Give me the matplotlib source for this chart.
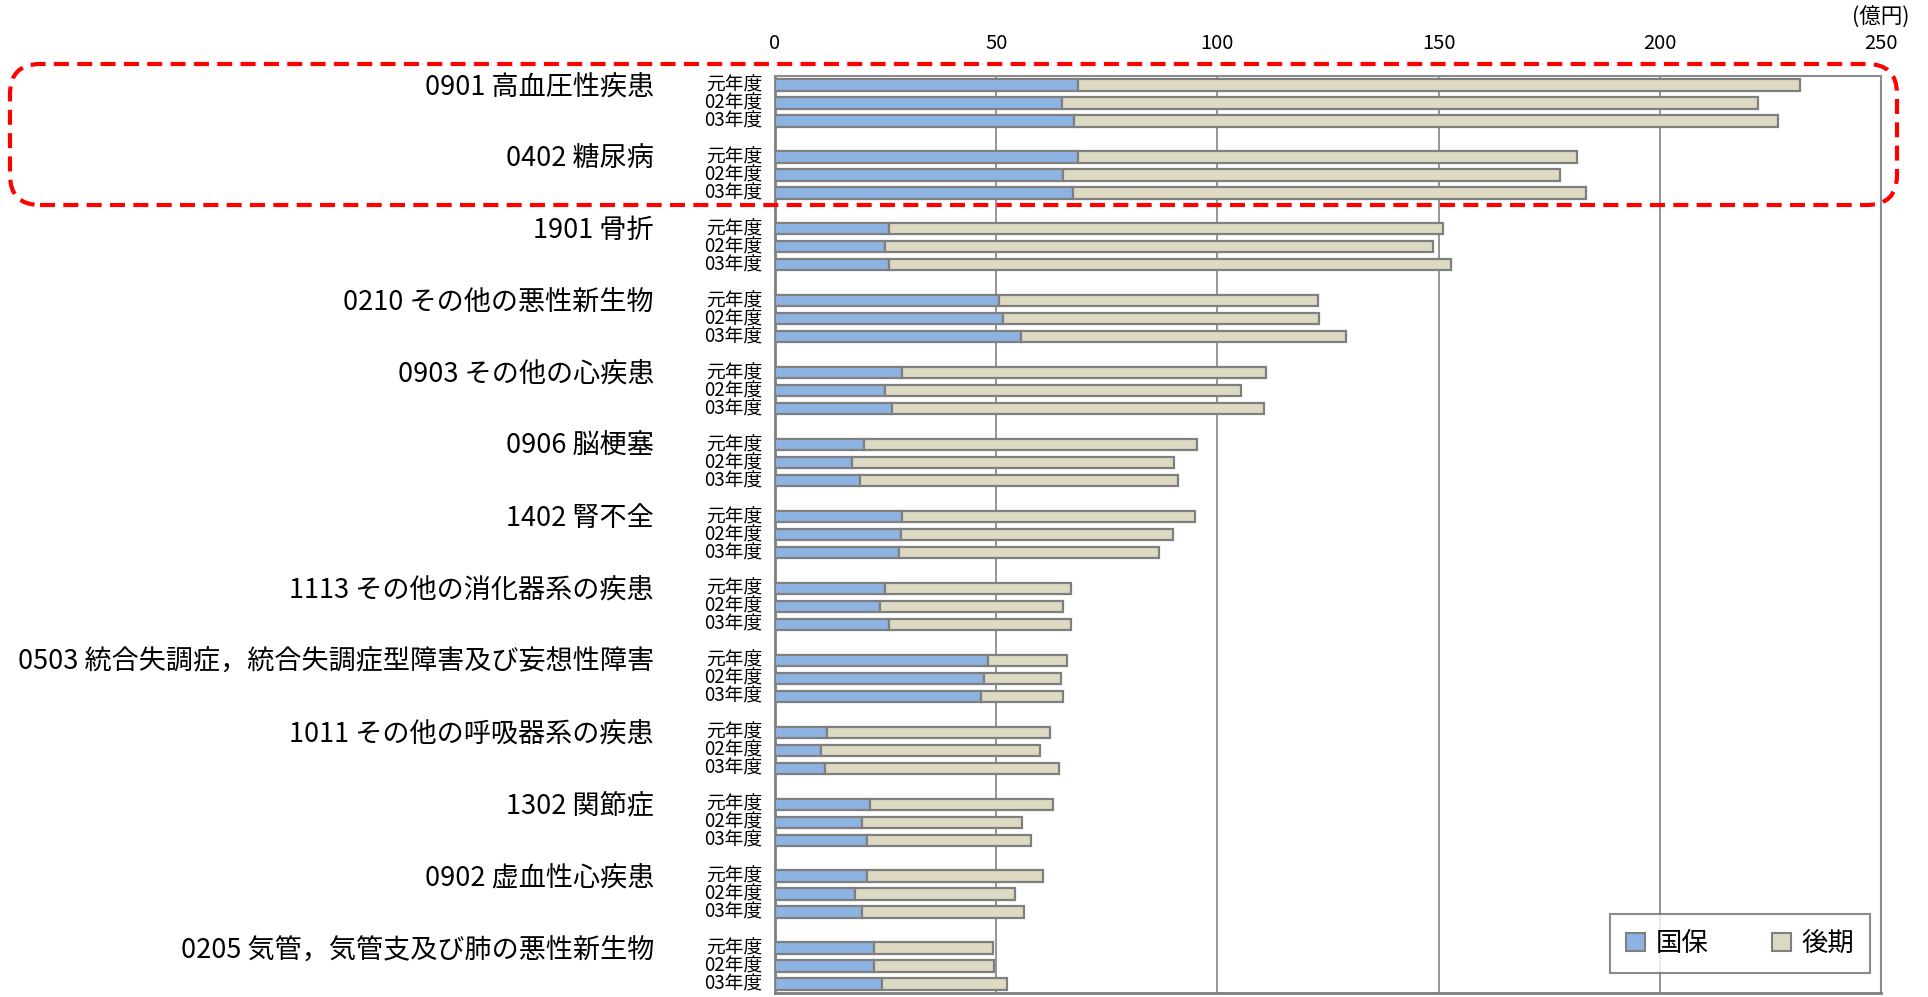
import matplotlib
matplotlib.use("Agg")
import matplotlib.pyplot as plt
from matplotlib.patches import FancyBboxPatch, Patch
from matplotlib.transforms import blended_transform_factory
import numpy as np

plt.rcParams['font.family'] = ['Noto Sans CJK JP', 'DejaVu Sans']

categories = ["0901 高血圧性疾患", "0402 糖尿病", "1901 骨折", "0210 その他の悪性新生物",
              "0903 その他の心疾患", "0906 脳梗塞", "1402 腎不全", "1113 その他の消化器系の疾患",
              "0503 統合失調症，統合失調症型障害及び妄想性障害", "1011 その他の呼吸器系の疾患",
              "1302 関節症", "0902 虚血性心疾患", "0205 気管，気管支及び肺の悪性新生物"]
years = ["元年度", "02年度", "03年度"]

kokuho_y1 = [68.4, 68.4, 25.7, 50.6, 28.7, 20.1, 28.7, 24.8, 48.1, 11.8, 21.5, 20.8, 22.3]
kokuho_y2 = [64.8, 65.1, 24.8, 51.6, 24.8, 17.5, 28.4, 23.7, 47.2, 10.5, 19.6, 18.1, 22.3]
kokuho_y3 = [67.6, 67.3, 25.7, 55.5, 26.4, 19.2, 28.0, 25.7, 46.5, 11.4, 20.7, 19.6, 24.1]
kouki_y1 = [163.3, 112.8, 125.2, 72.1, 82.3, 75.2, 66.3, 42.1, 18.0, 50.4, 41.4, 39.7, 27.0]
kouki_y2 = [157.4, 112.3, 124.0, 71.3, 80.5, 72.7, 61.6, 41.5, 17.4, 49.5, 36.2, 36.1, 27.3]
kouki_y3 = [159.1, 116.0, 127.2, 73.6, 84.1, 71.8, 58.9, 41.1, 18.6, 52.8, 37.2, 36.7, 28.3]

xticks = [0, 50, 100, 150, 200, 250]
series_names = ["国保", "後期"]

kokuho = [kokuho_y1, kokuho_y2, kokuho_y3]
kouki = [kouki_y1, kouki_y2, kouki_y3]

BLUE = "#8DB3E2"
BEIGE = "#DDD9C3"
EDGE = "#7F7F7F"

W, H = 1928, 997
fig = plt.figure(figsize=(W / 100, H / 100), dpi=100)
ax = fig.add_axes([775 / W, 1 - 993 / H, (1881 - 775) / W, (993 - 76) / H])

n = len(categories)
for k in range(3):
    ypos = np.arange(n) * 4 + k
    ax.barh(ypos, kokuho[k], height=0.63, color=BLUE, edgecolor=EDGE, linewidth=1.6, zorder=3)
    ax.barh(ypos, kouki[k], left=kokuho[k], height=0.63, color=BEIGE, edgecolor=EDGE,
            linewidth=1.6, zorder=3)

ax.set_xlim(0, 250)
ax.set_ylim(4 * (n - 1) + 2.5, -0.5)
ax.xaxis.tick_top()
ax.set_xticks(xticks)
ax.set_xticklabels([str(t) for t in xticks], fontsize=14.5)
ax.tick_params(axis='x', length=0, pad=16, colors="#000000")
ax.set_yticks([])
for x in xticks[1:-1]:
    ax.axvline(x, color="#8C8C8C", lw=1.3, zorder=1)
for s in ax.spines.values():
    s.set_color("#8C8C8C")
    s.set_linewidth(1.5)
ax.spines['left'].set_color("#7F7F7F")
ax.spines['left'].set_linewidth(2)
ax.spines['bottom'].set_color("#7F7F7F")
ax.spines['bottom'].set_linewidth(2)

tr = blended_transform_factory(ax.transAxes, ax.transData)
ax_w = 1881 - 775
for g, cat in enumerate(categories):
    ax.text((654 - 775) / ax_w, 4 * g + 0.1, cat, transform=tr, ha='right', va='center',
            fontsize=19.5, clip_on=False)
    for k, yl in enumerate(years):
        ax.text((762 - 775) / ax_w, 4 * g + k, yl, transform=tr, ha='right', va='center',
                fontsize=13.5, clip_on=False)

fig.text(1909 / W, 1 - 18 / H, "(億円)", ha='right', va='center', fontsize=15.5)

handles = [Patch(facecolor=BLUE, edgecolor=EDGE, linewidth=1.5),
           Patch(facecolor=BEIGE, edgecolor=EDGE, linewidth=1.5)]
leg = ax.legend(handles, series_names, loc='lower right',
                bbox_to_anchor=((1870 - 775) / ax_w, (993 - 973) / (993 - 76)),
                ncol=2, fontsize=19, frameon=True, fancybox=False, handlelength=0.72,
                handleheight=0.72, handletextpad=0.4, columnspacing=2.4,
                borderpad=0.6, borderaxespad=0)
leg._legend_box.sep = 0
leg.get_frame().set_edgecolor("#6E6E6E")
leg.get_frame().set_linewidth(1.5)
leg.set_zorder(5)

x0, x1 = 10, 1897
ytop, ybot = 64, 205
rect = FancyBboxPatch((x0, H - ybot), x1 - x0, ybot - ytop,
                      boxstyle="round,pad=0,rounding_size=30", transform=None,
                      fill=False, edgecolor="#FF0000", linewidth=3,
                      linestyle=(0, (3.6, 2.0)), zorder=10)
fig.patches.append(rect)

fig.savefig("out.png", dpi=100)
